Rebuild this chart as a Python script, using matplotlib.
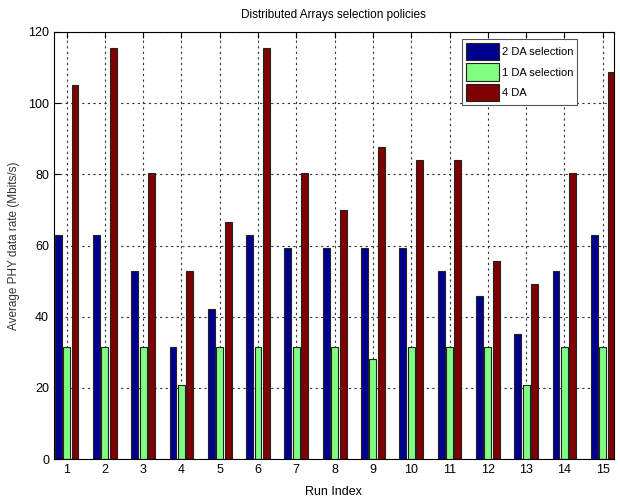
import numpy as np
import matplotlib.pyplot as plt

plt.rcParams['font.family'] = ['Liberation Sans Narrow', 'Liberation Sans', 'DejaVu Sans']

runs = list(range(1, 16))
da2 = [63, 63, 52.7, 31.5, 42.1, 63, 59.4, 59.4, 59.4, 59.4, 52.7, 45.7, 35, 52.7, 63]
da1 = [31.5, 31.5, 31.5, 20.9, 31.5, 31.5, 31.5, 31.5, 28, 31.5, 31.5, 31.5, 20.9, 31.5, 31.5]
da4 = [105.1, 115.5, 80.4, 52.7, 66.5, 115.5, 80.5, 70, 87.6, 84, 84, 55.7, 49.1, 80.4, 108.7]

series = [
    ('2 DA selection', da2, '#00008f'),
    ('1 DA selection', da1, '#80ff80'),
    ('4 DA', da4, '#800000'),
]

fig = plt.figure(figsize=(6.2, 5), dpi=100)
ax = fig.add_axes([0.087, 0.082, 0.903, 0.854])

x = np.array(runs)
width = 0.18
offsets = [-0.22, 0.0, 0.22]
for (label, vals, color), off in zip(series, offsets):
    ax.bar(x + off, vals, width, color=color, edgecolor='#222222',
           linewidth=0.8, label=label, zorder=2)

ax.set_xlim(0.67, 15.29)
ax.set_ylim(0, 120)
ax.set_xticks(runs)
ax.set_yticks(range(0, 121, 20))
ax.tick_params(direction='in', top=True, right=True, labelsize=9, length=4)
ax.set_axisbelow(True)
ax.grid(True, linestyle=(0, (2, 3)), color='#333333', linewidth=0.8)

ax.set_title('Distributed Arrays selection policies', fontsize=8.5, pad=10)
ax.set_xlabel('Run Index', fontsize=9, labelpad=7)
ax.set_ylabel('Average PHY data rate (Mbits/s)', fontsize=8.5, color='#333333',
              family=['Liberation Sans', 'DejaVu Sans'], labelpad=6)

leg = ax.legend(loc='upper left', bbox_to_anchor=(462 / 620, 1 - 39 / 500),
                bbox_transform=fig.transFigure, fontsize=8, fancybox=False,
                framealpha=1, edgecolor='#555555', handlelength=3.0,
                handleheight=2.0, borderpad=0.35, labelspacing=0.3,
                handletextpad=0.25, borderaxespad=0)
leg.get_frame().set_linewidth(0.8)

fig.savefig('out.png', dpi=100)
